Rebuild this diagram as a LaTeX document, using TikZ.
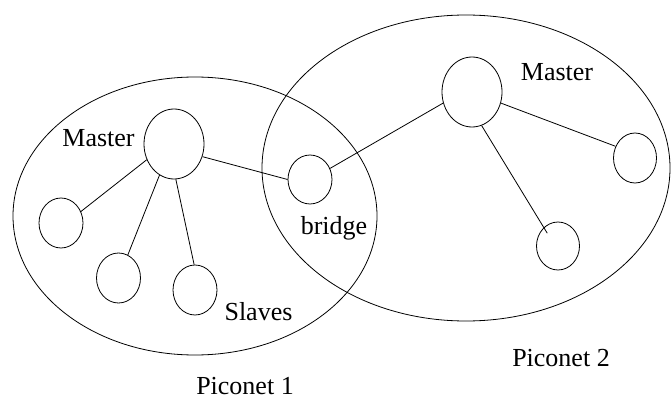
\documentclass[tikz,border=0pt]{standalone}
\usepackage{fontspec}
\setmainfont{Liberation Serif}
\usetikzlibrary{shapes.geometric,calc}
\begin{document}
\begin{tikzpicture}[x=1pt,y=-1pt,line width=0.8pt,
  dev/.style={draw,ellipse,inner sep=0pt,minimum width=44pt,minimum height=50pt},
  mst/.style={draw,ellipse,inner sep=0pt,minimum width=60pt,minimum height=70pt},
  net/.style={draw,ellipse,inner sep=0pt},
  lbl/.style={anchor=base,inner sep=0pt,font=\fontsize{26}{30}\selectfont}]
\useasboundingbox (0,0) rectangle (671,401);
% piconets
\node[net,minimum width=364pt,minimum height=278pt] (p1) at (195,216) {};
\node[net,minimum width=408pt,minimum height=306pt] (p2) at (466,168) {};
% devices
\node[mst] (m1) at (174,144) {};
\node[dev] (s1) at (61,223) {};
\node[dev] (s2) at (118.5,278) {};
\node[dev] (s3) at (195,290) {};
\node[dev,minimum height=49pt] (br) at (310,179.5) {};
\node[mst] (m2) at (472,92) {};
\node[dev,minimum width=43pt] (r1) at (635,158) {};
\node[dev,minimum width=43pt,minimum height=48pt] (r2) at (558,246) {};
% links
\draw (m1.210) -- (s1.30);
\draw (m1.245) -- (s2.68);
\draw (m1.273) -- (s3.92);
\draw (m1.336) -- (br.180);
\draw (br.29) -- (m2.201);
\draw (m2.339) -- (r1.149);
\coordinate (r2in) at ($(r2.center)!0.72!(r2.130)$);
\draw (m2.286) -- (r2in);
% labels
\node[lbl] (t1) at (98.5,146.7) {Master};
\node[lbl] (t2) at (334,234) {bridge};
\node[lbl] (t3) at (258.5,320.7) {Slaves};
\node[lbl] (t4) at (557,80.7) {Master};
\node[lbl] (t5) at (561,366) {Piconet 2};
\node[lbl] (t6) at (245,394.5) {Piconet 1};
\end{tikzpicture}
\end{document}
